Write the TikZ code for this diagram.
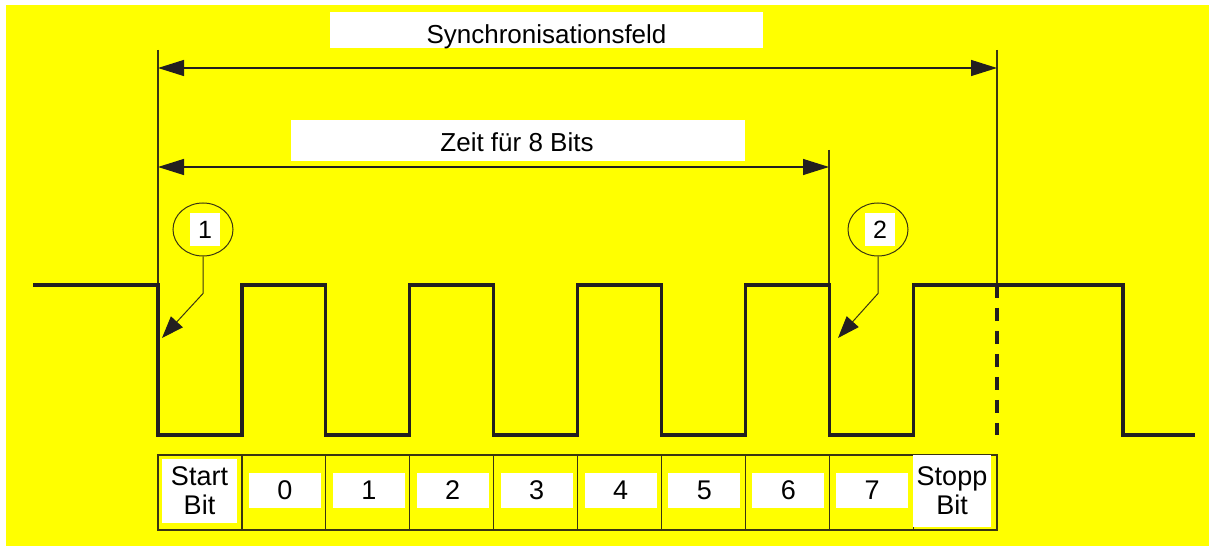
\documentclass[tikz,border=0pt]{standalone}
\usepackage{fontspec}
\setmainfont{Liberation Sans}
\usetikzlibrary{arrows.meta,shapes.geometric}

\definecolor{field}{HTML}{FFFF00}
\definecolor{sigline}{HTML}{231F20}
\definecolor{thinline}{HTML}{3A3512}

\tikzset{
  signal/.style={line width=1.6pt, sigline},
  guide/.style={line width=0.6pt, thinline},
  dimarrow/.style={line width=0.6pt, sigline, {Triangle[length=13pt,width=8pt]}-{Triangle[length=13pt,width=8pt]}},
  leader/.style={line width=0.5pt, thinline, -{Triangle[length=11pt,width=8pt,color=sigline]}},
  fieldtext/.style={font=\fontsize{13}{15}\selectfont, anchor=base},
  bitbox/.style={fill=white, minimum width=36pt, minimum height=17.5pt, inner sep=0pt, font=\fontsize{13.5}{15}\selectfont},
  endbox/.style={fill=white, align=center, inner sep=0pt, font=\fontsize{13.5}{14.5}\selectfont},
  marker/.style={ellipse, draw=thinline, line width=0.5pt, minimum width=30pt, minimum height=26.5pt},
  markernum/.style={fill=white, minimum width=15pt, minimum height=16.5pt, inner sep=0pt, font=\fontsize{12.5}{14}\selectfont}
}

\begin{document}
\begin{tikzpicture}[x=0.5pt, y=-0.5pt]
\useasboundingbox (0,0) rectangle (1215,550);
\fill[white] (0,0) rectangle (1215,550);
\fill[field] (6,5) rectangle (1209,546);

% guide lines and time spans
\coordinate (t0) at (158,50);
\coordinate (t8) at (829,150);
\coordinate (t10) at (997,50);
\coordinate (s0) at (158,285);
\coordinate (s8) at (829,285);
\coordinate (s10) at (997,285);
\draw[guide] (t0) -- (s0);
\draw[guide] (t8) -- (s8);
\draw[guide] (t10) -- (s10);
\draw[dimarrow] (158,68) -- (997,68);
\draw[dimarrow] (158,167) -- (829,167);

\fill[white] (330,12) rectangle (763,48);
\node[fieldtext] (sync) at (546.5,44) {Synchronisationsfeld};
\fill[white] (291,120) rectangle (745,161);
\node[fieldtext] (eight) at (517,152) {Zeit für 8 Bits};

% signal 0x55 with start and stop bit
\draw[signal] (33,285) -- (s0)
  foreach \p in {1,...,4} { -- ++(0,150) -- ++(83.9,0) -- ++(0,-150) -- ++(83.9,0) }
  -- ++(0,150) -- ++(83.9,0) -- ++(0,-150) -- (1123,285) -- (1123,435) -- (1195,435);
\draw[signal, dash pattern=on 6.5pt off 5pt] (s10) -- (997,435);

% markers 1 and 2
\node[marker] (m1) at (203,229.5) {};
\node[markernum] (n1) at (205,229.5) {1};
\coordinate (e1) at (162,338);
\draw[leader] (m1.south) -- ++(0,37) -- (e1);
\node[marker] (m2) at (878,229.5) {};
\node[markernum] (n2) at (880,229.5) {2};
\coordinate (e2) at (838,338);
\draw[leader] (m2.south) -- ++(0,37) -- (e2);

% bit table
\draw[guide] (158,455) rectangle (997,530);
\foreach \c in {1,...,9} \draw[guide] ({158+\c*83.9},455) -- ++(0,75);
\foreach \i in {0,...,7} \node[bitbox] (b\i) at ({201+(\i+1)*83.9},490.5) {\i};
\node[endbox, minimum width=37.5pt, minimum height=32pt] (start) at (199.5,491) {Start\\Bit};
\node[endbox, minimum width=39pt, minimum height=36pt] (stop) at (952,491) {Stopp\\Bit};
\end{tikzpicture}
\end{document}
